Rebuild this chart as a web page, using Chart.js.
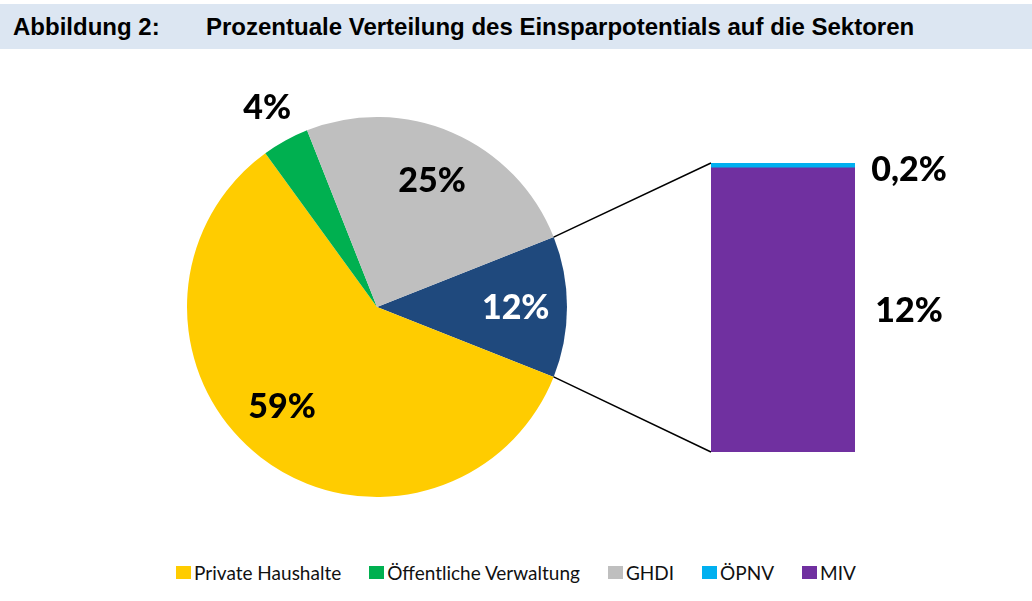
<!DOCTYPE html>
<html>
<head>
<meta charset="utf-8">
<script src="https://cdn.jsdelivr.net/npm/chart.js@4/dist/chart.umd.min.js"></script>
<style>
    body { margin: 0; background: #fff; }
    #page { position: relative; width: 1032px; height: 601px; overflow: hidden; background: #fff; }
    #header { position: absolute; left: 0; top: 4px; width: 1032px; height: 45px; background: #dce6f2;
        font: bold 24px "Liberation Sans", Arial, sans-serif; line-height: 45px; color: #000; }
    #header span { position: absolute; top: 0; }
    #pieWrap { position: absolute; left: 0; top: 50px; width: 1032px; height: 480px; }
    #barWrap { position: absolute; left: 700px; top: 140px; width: 280px; height: 330px; }
    #legend { position: absolute; left: 0; width: 1032px; top: 561px; display: flex; justify-content: center;
        font: 19px Lato, sans-serif; color: #111; }
    #legend .item { display: flex; align-items: center; margin: 0 14px; }
    #legend .box { width: 15px; height: 13px; margin-right: 3px; }
</style>
</head>
<body>
<div id="page">
    <div id="header"><span style="left:13px">Abbildung 2:</span><span style="left:206px">Prozentuale Verteilung des Einsparpotentials auf die Sektoren</span></div>
    <div id="pieWrap"><canvas id="pieChart"></canvas></div>
    <div id="barWrap"><canvas id="barChart"></canvas></div>
    <div id="legend"></div>
</div>
<script>
// Pie: sectors (Verkehr is split into the bar on the right)
const pieLabels = ['Verkehr', 'Private Haushalte', 'Öffentliche Verwaltung', 'GHDI'];
const pieValues = [12, 59, 4, 25];
// Bar: split of Verkehr (bottom to top)
const barLabels = ['MIV', 'ÖPNV'];
const barValues = [11.8, 0.2];
// Legend order as in the figure
const legendLabels = ['Private Haushalte', 'Öffentliche Verwaltung', 'GHDI', 'ÖPNV', 'MIV'];

const colors = {
    'Verkehr': '#1f497d',
    'Private Haushalte': '#ffcc00',
    'Öffentliche Verwaltung': '#00b050',
    'GHDI': '#bfbfbf',
    'ÖPNV': '#00b0f0',
    'MIV': '#7030a0'
};
// small label nudges (px), like the best-fit placement of the original
const labelNudge = { 'Private Haushalte': [-10, -11] };
const labelSize = 34;
const labelFont = '900 ' + labelSize + 'px Lato, sans-serif';

function fmtPct(v) {
    if (v < 1) return v.toFixed(1).replace('.', ',') + '%';
    return Math.round(v) + '%';
}

function drawPct(ctx, text, cx, cy, color) {
    ctx.save();
    ctx.font = labelFont;
    ctx.fillStyle = color;
    ctx.textAlign = 'center';
    ctx.textBaseline = 'alphabetic';
    ctx.fillText(text, cx, cy + labelSize * 0.36);
    ctx.restore();
}

// Bar chart first, the pie plugin reads its bar positions
const barLabelPlugin = {
    id: 'barLabels',
    afterDatasetsDraw(chart) {
        const ctx = chart.ctx;
        chart.data.datasets.forEach((ds, i) => {
            const bar = chart.getDatasetMeta(i).data[0];
            let cy = (bar.y + bar.base) / 2;
            if (ds.data[0] < 1) cy += 3;
            drawPct(ctx, fmtPct(ds.data[0]), chart.chartArea.right + 54, cy, '#000');
        });
    }
};

const barChart = new Chart(document.getElementById('barChart'), {
    type: 'bar',
    data: {
        labels: ['Verkehr'],
        datasets: barLabels.map((l, i) => ({
            label: l,
            data: [barValues[i]],
            backgroundColor: colors[l],
            borderWidth: 0,
            barPercentage: 1,
            categoryPercentage: 1
        }))
    },
    options: {
        responsive: true,
        maintainAspectRatio: false,
        animation: false,
        events: [],
        layout: { padding: { left: 11, top: 23, right: 125, bottom: 18 } },
        plugins: { legend: { display: false }, tooltip: { enabled: false } },
        scales: {
            x: { stacked: true, display: false },
            y: { stacked: true, display: false, min: 0, max: barValues.reduce((a, b) => a + b, 0) }
        }
    },
    plugins: [barLabelPlugin]
});

const pieLabelPlugin = {
    id: 'pieLabels',
    afterDatasetsDraw(chart) {
        const ctx = chart.ctx;
        const arcs = chart.getDatasetMeta(0).data;
        arcs.forEach((arc, i) => {
            const v = pieValues[i];
            const mid = (arc.startAngle + arc.endAngle) / 2;
            const r = arc.outerRadius * (v < 5 ? 1.2 : 0.73);
            const color = pieLabels[i] === 'Verkehr' ? '#fff' : '#000';
            const n = labelNudge[pieLabels[i]] || [0, 0];
            drawPct(ctx, fmtPct(v), arc.x + r * Math.cos(mid) + n[0], arc.y + r * Math.sin(mid) + n[1], color);
        });

        // connector lines from the Verkehr slice to the bar
        const arc = arcs[pieLabels.indexOf('Verkehr')];
        const miv = barChart.getDatasetMeta(barLabels.indexOf('MIV')).data[0];
        const oepnv = barChart.getDatasetMeta(barLabels.indexOf('ÖPNV')).data[0];
        const pr = chart.canvas.getBoundingClientRect();
        const br = barChart.canvas.getBoundingClientRect();
        const dx = br.left - pr.left, dy = br.top - pr.top;
        const left = miv.x - miv.width / 2 + dx;
        ctx.save();
        ctx.strokeStyle = '#000';
        ctx.lineWidth = 1.5;
        ctx.beginPath();
        ctx.moveTo(arc.x + arc.outerRadius * Math.cos(arc.startAngle), arc.y + arc.outerRadius * Math.sin(arc.startAngle));
        ctx.lineTo(left, oepnv.y + dy);
        ctx.moveTo(arc.x + arc.outerRadius * Math.cos(arc.endAngle), arc.y + arc.outerRadius * Math.sin(arc.endAngle));
        ctx.lineTo(left, miv.base + dy);
        ctx.stroke();
        ctx.restore();
    }
};

// Verkehr slice centred on the right-hand horizontal
const total = pieValues.reduce((a, b) => a + b, 0);
const rotation = 90 - pieValues[0] / total * 360 / 2;

new Chart(document.getElementById('pieChart'), {
    type: 'pie',
    data: {
        labels: pieLabels,
        datasets: [{
            data: pieValues,
            backgroundColor: pieLabels.map(l => colors[l]),
            borderWidth: 0
        }]
    },
    options: {
        responsive: true,
        maintainAspectRatio: false,
        animation: false,
        events: [],
        rotation: rotation,
        layout: { padding: { left: 0, right: 278, top: 67, bottom: 33 } },
        plugins: { legend: { display: false }, tooltip: { enabled: false } }
    },
    plugins: [pieLabelPlugin]
});

// legend
let legend = document.getElementById('legend');
legendLabels.forEach(l => {
    let item = document.createElement('div');
    item.setAttribute('class', 'item');
    let box = document.createElement('span');
    box.setAttribute('class', 'box');
    box.style.background = colors[l];
    item.appendChild(box);
    let span = document.createElement('span');
    span.innerHTML = l;
    item.appendChild(span);
    legend.appendChild(item);
});
</script>
</body>
</html>
